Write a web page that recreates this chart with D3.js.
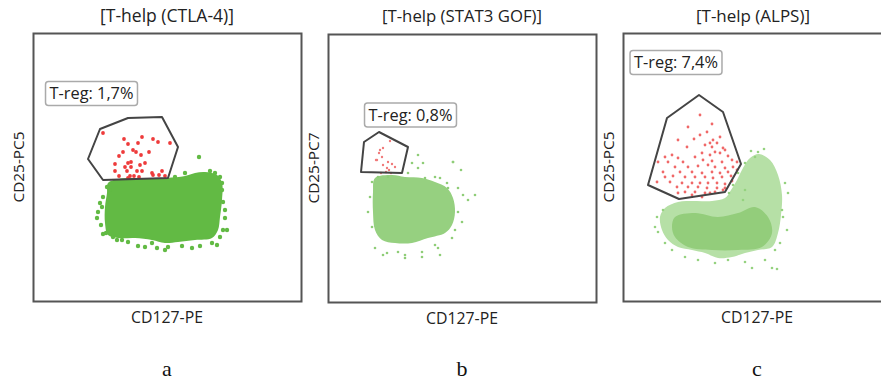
<!DOCTYPE html>
<html>
<head>
<meta charset="utf-8">
<script src="https://cdn.jsdelivr.net/npm/d3@7"></script>
<style>
  body { margin: 0; background: #fff; }
  svg { display: block; }
</style>
</head>
<body>
<div id="chart"></div>
<script>
// values in arbitrary channel units, 0..268 on both axes
const titles = ['[T-help (CTLA-4)]', '[T-help (STAT3 GOF)]', '[T-help (ALPS)]'];
const gateLabels = ['T-reg: 1,7%', 'T-reg: 0,8%', 'T-reg: 7,4%'];
const gateLabelPos = [[58.5, 207.5], [82.5, 187], [53, 238.5]];
const yLabels = ['CD25-PC5', 'CD25-PC7', 'CD25-PC5'];
const xLabels = ['CD127-PE', 'CD127-PE', 'CD127-PE'];
const letters = ['a', 'b', 'c'];

// panel a
const gateA = [[67,172],[95,183],[129,184],[145,154],[135,123],[70,121],[55,142]];
const redA = [[70,168],[109,164],[91,162],[120,162],[125,159],[137,158],[105,158],[95,157],
  [100,151],[90,149],[103,149],[116,149],[86,145],[108,146],[98,139],[82,137],[95,138],
  [112,138],[107,136],[92,134],[98,134],[82,130],[94,130],[104,130],[109,130],[119,128],
  [129,130],[86,125],[97,125],[101,125],[106,124],[120,126],[126,126],[132,125],[95,123]];
const coreA = [[75,118],[85,122],[102,123],[119,122],[134,123],[152,125],[162,128],[172,129],
  [184,126],[189,118],[189,101],[187,84],[185,71],[179,63],[162,61],[145,59],[132,58],
  [119,61],[102,63],[85,63],[75,66],[72,78],[72,94],[74,108]];
const fringeA = [[166,144],[65,89],[64,83],[70,104],[68,76],[73,68],[70,67],[89,61],[105,55],
  [132,51],[135,54],[159,53],[167,55],[179,58],[184,56],[190,71],[192,83],[190,99],[189,111],
  [189,118],[187,124],[182,128],[177,130],[152,128],[142,124],[74,114],[77,111],[69,94],
  [67,98],[80,64],[95,59],[119,58],[149,55],[192,91],[194,71],[187,64],[84,61],[112,54],[124,53]];

// panel b
const gateB = [[36,160],[51,170],[80,155],[74,129],[33,130]];
const redB = [[62,161],[55,154],[51,149],[54,145],[49,142],[60,140],[55,137],[64,138],[59,134],
  [61,132],[52,152],[67,135],[58,130],[63,129],[53,129],[48,142]];
const coreB = [[47,124],[64,127],[77,125],[94,124],[107,120],[119,114],[125,104],[127,90],
  [124,77],[117,69],[100,64],[84,59],[67,59],[54,62],[47,72],[45,90],[45,110]];
const fringeB = [[90,147],[84,139],[125,140],[133,132],[90,134],[97,124],[107,125],[112,124],
  [119,119],[130,114],[135,107],[147,107],[140,102],[130,90],[134,80],[124,64],[110,54],
  [94,50],[77,47],[59,49],[55,47],[47,54],[42,105],[44,75],[40,90],[70,50],[107,57],[127,72],
  [120,114],[80,129],[60,125],[50,125],[44,120],[125,140],[95,139],[77,44],[94,45],[112,47]];

// panel c
const gateC = [[25,116],[44,183],[76,206],[100,189],[118,137],[102,109],[56,102]];
const redC = [[77,186],[89,177],[65,174],[84,169],[77,166],[71,162],[90,161],[87,158],[94,158],
  [82,156],[89,154],[64,154],[100,153],[92,149],[79,148],[97,148],[87,146],[105,145],[49,146],
  [42,144],[55,143],[72,144],[35,139],[45,139],[60,139],[80,141],[89,140],[99,139],[109,141],
  [114,139],[52,134],[65,134],[75,135],[85,136],[92,134],[102,133],[110,134],[40,129],[57,129],
  [69,129],[79,128],[89,129],[97,128],[105,129],[114,131],[42,124],[50,125],[62,124],[72,124],
  [82,124],[90,123],[99,124],[108,125],[34,119],[47,119],[59,118],[69,118],[77,118],[85,118],
  [94,118],[102,117],[109,120],[54,114],[65,114],[75,114],[84,113],[94,113],[102,113],[55,161],
  [97,164],[102,151],[62,109],[72,109],[82,108],[92,109],[100,111],[55,108],[69,106],[79,104],[87,108]];
const coreC = [[42,93],[55,99],[72,100],[89,100],[102,103],[108,111],[114,121],[120,133],
  [127,143],[136,147],[147,141],[155,126],[159,106],[158,86],[155,68],[149,54],[135,51],[122,48],
  [109,44],[95,43],[82,48],[69,51],[55,54],[45,61],[39,71],[37,84]];
const denseC = [[52,84],[72,88],[95,84],[115,88],[132,94],[145,84],[149,68],[139,54],[115,51],
  [89,51],[65,54],[52,64],[49,74]];
const fringeC = [[135,149],[132,144],[122,138],[162,118],[165,108],[159,91],[164,71],[157,58],
  [152,51],[142,41],[149,33],[154,32],[129,33],[122,39],[105,41],[92,38],[75,41],[62,44],
  [49,51],[42,58],[35,69],[34,84],[40,91],[32,74],[115,128],[122,111],[120,101],[160,84],
  [141,152],[128,150],[110,116],[106,108]];

const panels = [
  { left: 33,  bottom: 301, gate: gateA, red: redA, core: [coreA], coreFill: ['#62ba44'], fringe: fringeA,
    greenR: 2.2, green: '#62ba44', redR: 1.9, redFill: '#ee3b3b' },
  { left: 328, bottom: 302, gate: gateB, red: redB, core: [coreB], coreFill: ['#96d080'], fringe: fringeB,
    greenR: 1.3, green: '#8fcd77', redR: 1.2, redFill: '#f07a7a' },
  { left: 623, bottom: 301, gate: gateC, red: redC, core: [coreC, denseC], coreFill: ['#b6e0a6', '#93cd7b'], fringe: fringeC,
    greenR: 1.3, green: '#95d27f', redR: 1.4, redFill: '#f06868' }
];

const W = 881, H = 380, S = 268;
const FONT = 'Open Sans';
const svg = d3.select('#chart').append('svg').attr('width', W).attr('height', H);

// set font size so that text spans the width
function fitText(sel, target) {
  const len = sel.node().getComputedTextLength();
  const fs = +sel.attr('font-size');
  sel.attr('font-size', fs * target / len);
  return sel;
}

panels.forEach((p, i) => {
  const x = d3.scaleLinear().domain([0, 268]).range([p.left, p.left + S]);
  const y = d3.scaleLinear().domain([0, 268]).range([p.bottom, p.bottom - S]);
  const g = svg.append('g');
  const cx = p.left + S / 2;

  fitText(g.append('text')
    .attr('x', i === 2 ? cx - 4 : cx).attr('y', 22)
    .attr('text-anchor', 'middle')
    .attr('font-family', FONT).attr('font-size', 15).attr('fill', '#222')
    .text(titles[i]), [134, 160, 114][i]);

  const line = d3.line().x(d => x(d[0])).y(d => y(d[1]));

  p.core.forEach((c, k) => {
    g.append('path').attr('d', line.curve(d3.curveCatmullRomClosed)(c))
      .attr('fill', p.coreFill[k]).attr('stroke', 'none');
  });

  g.selectAll('.fr').data(p.fringe).enter().append('circle')
    .attr('cx', d => x(d[0])).attr('cy', d => y(d[1])).attr('r', p.greenR)
    .attr('fill', p.green);

  g.selectAll('.rd').data(p.red).enter().append('circle')
    .attr('cx', d => x(d[0])).attr('cy', d => y(d[1])).attr('r', p.redR)
    .attr('fill', p.redFill);

  g.append('path').attr('d', line.curve(d3.curveLinearClosed)(p.gate))
    .attr('fill', 'none').attr('stroke', '#444').attr('stroke-width', 2)
    .attr('stroke-linejoin', 'round');

  g.append('rect')
    .attr('x', p.left + 0.5).attr('y', p.bottom - S + 0.5)
    .attr('width', S).attr('height', S)
    .attr('fill', 'none').attr('stroke', '#555').attr('stroke-width', 2);

  // gate label box
  const lp = gateLabelPos[i];
  const lbl = g.append('g');
  const t = fitText(lbl.append('text')
    .attr('x', x(lp[0])).attr('y', y(lp[1]))
    .attr('dy', '0.35em')
    .attr('text-anchor', 'middle')
    .attr('font-family', FONT).attr('font-size', 15).attr('fill', '#222')
    .text(gateLabels[i]), 84);
  const bb = t.node().getBBox();
  lbl.insert('rect', 'text')
    .attr('x', bb.x - 4).attr('y', y(lp[1]) - 12).attr('width', bb.width + 8).attr('height', 24)
    .attr('rx', 3).attr('fill', '#fff').attr('stroke', '#aaa').attr('stroke-width', 1.5);

  fitText(g.append('text')
    .attr('transform', `translate(${p.left - 9},${p.bottom - S / 2}) rotate(-90)`)
    .attr('text-anchor', 'middle')
    .attr('font-family', FONT).attr('font-size', 14).attr('fill', '#222')
    .text(yLabels[i]), 71);

  fitText(g.append('text')
    .attr('x', cx).attr('y', p.bottom + 22)
    .attr('text-anchor', 'middle')
    .attr('font-family', FONT).attr('font-size', 14).attr('fill', '#222')
    .text(xLabels[i]), 72);

  g.append('text')
    .attr('x', cx).attr('y', 376)
    .attr('text-anchor', 'middle')
    .attr('font-family', 'Liberation Serif').attr('font-size', 22).attr('fill', '#111')
    .text(letters[i]);
});
</script>
</body>
</html>
